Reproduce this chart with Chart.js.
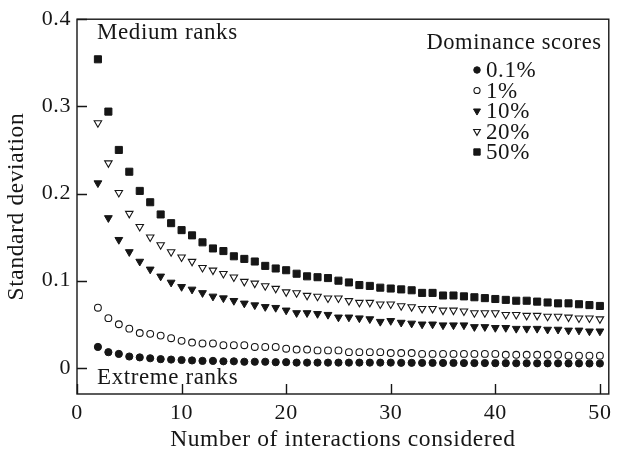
<!DOCTYPE html>
<html>
<head>
<meta charset="utf-8">
<script src="https://cdn.jsdelivr.net/npm/chart.js@4/dist/chart.umd.min.js"></script>
<style>
  html, body { margin: 0; padding: 0; background: #fff; }
  #wrap { width: 617px; height: 454px; position: relative; }
</style>
</head>
<body>
<div id="wrap"><canvas id="c" width="617" height="454"></canvas></div>
<script>
// ---- Data ----
const interactions = [2,3,4,5,6,7,8,9,10,11,12,13,14,15,16,17,18,19,20,21,22,23,24,25,26,27,28,29,30,31,32,33,34,35,36,37,38,39,40,41,42,43,44,45,46,47,48,49,50];

const sd01 = [0.024,0.018,0.016,0.013,0.012,0.011,0.010,0.0095,0.009,0.0085,0.008,0.008,0.0075,0.0075,0.007,0.007,0.007,0.0065,0.0065,
  0.006,0.006,0.006,0.006,0.006,0.006,0.006,0.006,0.006,0.006,0.0058,0.0058,0.0057,0.0057,0.0056,0.0056,0.0055,0.0055,0.0055,0.0054,
  0.0054,0.0053,0.0053,0.0052,0.0052,0.0052,0.0051,0.0051,0.005,0.005];
const sd1 = [0.069,0.057,0.050,0.045,0.040,0.039,0.037,0.034,0.031,0.029,0.028,0.028,0.026,0.026,0.026,0.024,0.024,0.024,0.022,
  0.021,0.021,0.020,0.020,0.020,0.018,0.018,0.018,0.018,0.017,0.017,0.017,0.016,0.016,0.016,0.016,0.016,0.016,0.016,0.016,
  0.015,0.015,0.015,0.015,0.015,0.015,0.014,0.014,0.014,0.014];
const sd10 = [0.212,0.172,0.147,0.133,0.122,0.113,0.105,0.098,0.093,0.090,0.086,0.082,0.080,0.077,0.074,0.072,0.070,0.069,0.066,
  0.063,0.063,0.062,0.061,0.058,0.058,0.057,0.056,0.053,0.054,0.052,0.051,0.050,0.050,0.049,0.049,0.049,0.047,0.047,0.046,
  0.046,0.045,0.045,0.045,0.044,0.044,0.043,0.043,0.042,0.042];
const sd20 = [0.281,0.235,0.201,0.177,0.162,0.150,0.141,0.133,0.127,0.122,0.115,0.112,0.108,0.104,0.099,0.097,0.094,0.091,0.087,
  0.086,0.083,0.082,0.080,0.080,0.077,0.075,0.075,0.073,0.073,0.071,0.070,0.068,0.068,0.066,0.066,0.065,0.063,0.063,0.063,
  0.061,0.061,0.060,0.060,0.059,0.059,0.058,0.057,0.057,0.056];
const sd50 = [0.354,0.294,0.250,0.225,0.203,0.190,0.176,0.166,0.158,0.152,0.144,0.137,0.134,0.128,0.125,0.122,0.117,0.114,0.112,
  0.108,0.105,0.104,0.103,0.100,0.098,0.095,0.094,0.092,0.091,0.090,0.089,0.086,0.086,0.083,0.083,0.082,0.081,0.080,0.079,
  0.078,0.077,0.077,0.076,0.075,0.074,0.074,0.073,0.072,0.071];

const seriesLabels = ['0.1%', '1%', '10%', '20%', '50%'];
const xTickValues = [0, 10, 20, 30, 40, 50];
const xTickLabels = ['0', '10', '20', '30', '40', '50'];
const yTickValues = [0, 0.1, 0.2, 0.3, 0.4];
const yTickLabels = ['0', '0.1', '0.2', '0.3', '0.4'];
const legendTitle = 'Dominance scores';
const topNote = 'Medium ranks';
const bottomNote = 'Extreme ranks';
const xTitle = 'Number of interactions considered';
const yTitle = 'Standard deviation';

// ---- Styles ----
const INK = '#161616';
const FONT = '"Liberation Serif", "Times New Roman", serif';
const SPACING = '0.6px';

function pts(ys) { return interactions.map((x, i) => ({x: x, y: ys[i]})); }

const styles = [
  {pointStyle: 'circle',   radius: 3.6, rotation: 0,   fill: INK,    lw: 1},
  {pointStyle: 'circle',   radius: 3.4, rotation: 0,   fill: '#fff', lw: 1.1},
  {pointStyle: 'triangle', radius: 4.5, rotation: 180, fill: INK,    lw: 1},
  {pointStyle: 'triangle', radius: 4.3, rotation: 180, fill: '#fff', lw: 1.1},
  {pointStyle: 'rect',     radius: 5.0, rotation: 0,   fill: INK,    lw: 1}
];
const seriesData = [sd01, sd1, sd10, sd20, sd50];

const datasets = seriesData.map((ys, i) => ({
  label: seriesLabels[i],
  data: pts(ys),
  showLine: false,
  pointStyle: styles[i].pointStyle,
  pointRadius: styles[i].radius,
  pointHoverRadius: styles[i].radius,
  pointRotation: styles[i].rotation,
  pointBackgroundColor: styles[i].fill,
  pointBorderColor: INK,
  pointBorderWidth: styles[i].lw
}));

const spacingPlugin = {
  id: 'spacing',
  beforeDraw(chart) {
    if ('letterSpacing' in chart.ctx) chart.ctx.letterSpacing = SPACING;
  }
};

const framePlugin = {
  id: 'frame',
  afterDraw(chart) {
    const {ctx, chartArea: a, scales} = chart;
    ctx.save();
    if ('letterSpacing' in ctx) ctx.letterSpacing = SPACING;
    ctx.strokeStyle = INK;
    ctx.lineWidth = 1.4;
    ctx.strokeRect(a.left, a.top, a.right - a.left, a.bottom - a.top);
    ctx.beginPath();
    scales.x.ticks.forEach(t => {
      const px = Math.round(scales.x.getPixelForValue(t.value)) + 0.5;
      ctx.moveTo(px, a.bottom); ctx.lineTo(px, a.bottom - 10);
    });
    scales.y.ticks.forEach(t => {
      const py = Math.round(scales.y.getPixelForValue(t.value)) + 0.5;
      ctx.moveTo(a.left, py); ctx.lineTo(a.left + 10, py);
    });
    ctx.stroke();

    // annotations
    ctx.fillStyle = INK;
    ctx.font = '23px ' + FONT;
    ctx.textAlign = 'left';
    ctx.textBaseline = 'alphabetic';
    ctx.fillText(topNote, 97, 39);
    ctx.fillText(bottomNote, 97, 384);

    // legend
    ctx.font = '22.5px ' + FONT;
    ctx.textAlign = 'center';
    ctx.fillText(legendTitle, 514, 49);
    ctx.textAlign = 'left';
    ctx.font = '23px ' + FONT;
    const rowY = [70, 90.5, 111, 131.5, 152];
    chart.data.datasets.forEach((ds, i) => {
      const y = rowY[i];
      ctx.fillStyle = ds.pointBackgroundColor;
      ctx.strokeStyle = INK;
      ctx.lineWidth = ds.pointBorderWidth;
      Chart.helpers.drawPoint(ctx, {
        pointStyle: ds.pointStyle,
        rotation: ds.pointRotation,
        radius: ds.pointRadius * 0.9,
        borderWidth: ds.pointBorderWidth
      }, 477, y);
      ctx.fillStyle = INK;
      ctx.fillText(ds.label, 486, y + 7);
    });
    ctx.restore();
  }
};

new Chart(document.getElementById('c'), {
  type: 'scatter',
  data: { datasets },
  options: {
    responsive: false,
    animation: false,
    devicePixelRatio: 1,
    layout: { padding: { left: 0, right: 4, top: 19, bottom: 0 } },
    plugins: { legend: { display: false }, tooltip: { enabled: false } },
    scales: {
      x: {
        type: 'linear',
        min: 0, max: 50.85,
        afterFit(s) { s.height = 60; },
        afterBuildTicks(s) { s.ticks = xTickValues.map(v => ({value: v})); },
        grid: { display: false, drawTicks: false },
        border: { display: false },
        ticks: {
          color: INK, font: { family: FONT, size: 22 }, padding: 6,
          maxRotation: 0, autoSkip: false,
          callback: (v, i) => xTickLabels[i]
        },
        title: { display: true, text: xTitle, color: INK, font: { family: FONT, size: 23.5 }, padding: { top: 0, bottom: 0 } }
      },
      y: {
        type: 'linear',
        min: -0.03, max: 0.4,
        afterFit(s) { s.width = 77; },
        afterBuildTicks(s) { s.ticks = yTickValues.map(v => ({value: v})); },
        grid: { display: false, drawTicks: false },
        border: { display: false },
        ticks: {
          color: INK, font: { family: FONT, size: 22 }, padding: 6,
          autoSkip: false,
          callback: (v, i) => yTickLabels[i]
        },
        title: { display: true, text: yTitle, color: INK, font: { family: FONT, size: 23.5 }, padding: { top: 3, bottom: 0 } }
      }
    }
  },
  plugins: [spacingPlugin, framePlugin]
});
</script>
</body>
</html>
